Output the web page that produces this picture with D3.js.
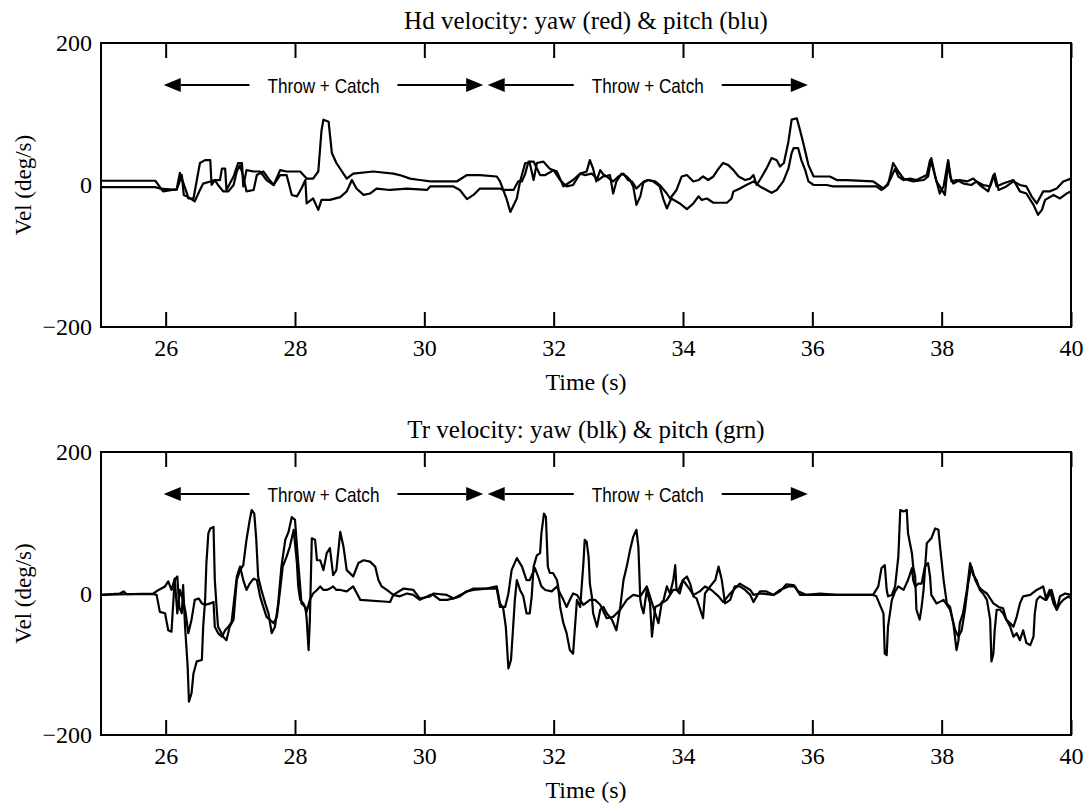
<!DOCTYPE html>
<html>
<head>
<meta charset="utf-8">
<script src="https://cdn.jsdelivr.net/npm/d3@7"></script>
<style>
  body { margin: 0; background: #fff; }
</style>
</head>
<body>
<div id="chart"></div>
<script>
// axis values
const timeTicks = [26, 28, 30, 32, 34, 36, 38, 40];
const velTicks = [-200, 0, 200];

// throw + catch spans (s)
const spans = [[25.97, 30.91], [30.98, 35.93]];
const spanLabel = "Throw + Catch";

// head velocity, [time, deg/s]
const hdYaw = [
  [25.0,6],[25.84,6],[25.96,-9],[26.17,-6],[26.22,17],[26.33,-12],[26.35,-19],[26.43,-19],[26.53,31],[26.61,35],
  [26.69,35],[26.71,0],[26.76,7],[26.84,7],[26.87,23],[26.92,23],[26.94,-7],[27.05,12],[27.12,31],[27.18,31],
  [27.20,-2],[27.25,21],[27.36,19],[27.46,19],[27.56,7],[27.67,0],[27.77,21],[27.87,19],[28.08,19],[28.18,9],
  [28.28,9],[28.36,19],[28.41,77],[28.44,92],[28.52,89],[28.57,45],[28.64,31],[28.80,9],[28.90,16],[29.21,19],
  [29.52,16],[29.62,14],[29.78,9],[29.93,7],[30.09,5],[30.50,5],[30.66,14],[30.86,14],[31.12,12],[31.17,5],
  [31.27,-19],[31.33,-38],[31.43,-19],[31.48,5],[31.56,31],[31.63,31],[31.69,7],[31.74,31],[31.84,33],[31.94,23],
  [32.05,19],[32.15,-2],[32.30,7],[32.41,16],[32.51,19],[32.56,35],[32.61,23],[32.66,5],[32.72,21],[32.79,12],
  [32.87,14],[32.92,-12],[32.97,5],[33.05,16],[33.13,12],[33.18,7],[33.23,-2],[33.28,-28],[33.34,-16],[33.39,5],
  [33.46,7],[33.54,5],[33.64,-2],[33.70,-21],[33.75,-33],[33.82,-19],[33.95,-26],[34.06,-34],[34.16,-26],[34.24,-16],
  [34.29,-21],[34.37,-19],[34.47,-25],[34.68,-25],[34.75,-19],[34.78,-9],[34.88,-5],[34.98,0],[35.09,5],[35.19,-2],
  [35.29,-7],[35.37,-11],[35.45,-7],[35.55,5],[35.63,23],[35.68,45],[35.71,52],[35.78,52],[35.83,35],[35.89,21],
  [35.94,5],[36.02,0],[36.22,0],[36.32,-2],[36.99,-2],[37.07,-7],[37.15,0],[37.20,7],[37.28,23],[37.33,12],
  [37.41,7],[37.51,9],[37.61,7],[37.77,14],[37.82,35],[37.87,23],[37.92,5],[37.97,-2],[38.05,-14],[38.10,33],
  [38.13,12],[38.18,2],[38.28,7],[38.39,5],[38.49,9],[38.59,0],[38.72,-9],[38.80,14],[38.85,-2],[38.95,2],
  [39.11,7],[39.21,-9],[39.31,-12],[39.42,-28],[39.49,-42],[39.55,-35],[39.60,-21],[39.73,-14],[39.83,-19],[39.93,-12],
  [40.0,-9]
];
const hdPitch = [
  [25.0,-3],[25.84,-3],[25.91,-5],[26.17,-7],[26.25,14],[26.28,-14],[26.35,-17],[26.45,-23],[26.53,-7],[26.58,2],
  [26.69,5],[26.76,7],[26.81,0],[26.89,-9],[26.97,-9],[27.05,0],[27.10,19],[27.15,28],[27.20,12],[27.25,-9],
  [27.36,-7],[27.41,14],[27.51,19],[27.59,9],[27.67,0],[27.77,14],[27.87,14],[27.95,-14],[28.03,-16],[28.10,-5],
  [28.16,7],[28.18,-26],[28.28,-19],[28.36,-35],[28.41,-21],[28.54,-21],[28.70,-17],[28.80,-9],[28.88,7],[28.95,-5],
  [29.06,-14],[29.16,-12],[29.26,-5],[29.47,-7],[29.73,-5],[30.04,-7],[30.09,-2],[30.45,-2],[30.55,-7],[30.66,-20],
  [30.76,-14],[30.86,-5],[31.17,-5],[31.22,-7],[31.38,-7],[31.45,5],[31.51,5],[31.56,16],[31.61,33],[31.69,33],
  [31.79,14],[31.87,14],[32.0,21],[32.10,7],[32.20,-2],[32.30,0],[32.41,16],[32.48,14],[32.59,16],[32.69,7],
  [32.79,14],[32.92,5],[33.0,12],[33.08,16],[33.15,7],[33.21,5],[33.28,-5],[33.36,2],[33.46,7],[33.57,5],
  [33.64,0],[33.75,-12],[33.80,-19],[33.90,-7],[33.98,12],[34.06,14],[34.16,5],[34.24,7],[34.31,12],[34.39,7],
  [34.47,12],[34.55,23],[34.62,31],[34.70,28],[34.78,21],[34.86,12],[34.96,7],[35.04,9],[35.09,14],[35.14,0],
  [35.22,12],[35.29,23],[35.37,38],[35.45,35],[35.50,26],[35.56,31],[35.63,61],[35.68,92],[35.76,94],[35.81,77],
  [35.86,59],[35.94,28],[36.02,12],[36.27,12],[36.38,7],[36.53,7],[36.94,5],[37.02,0],[37.10,-5],[37.17,0],
  [37.25,31],[37.33,19],[37.41,9],[37.56,5],[37.72,7],[37.79,12],[37.84,38],[37.90,12],[37.97,-12],[38.03,-2],
  [38.10,35],[38.15,5],[38.23,7],[38.34,2],[38.46,0],[38.54,5],[38.64,0],[38.75,-2],[38.82,16],[38.88,-7],
  [39.0,-2],[39.11,5],[39.21,0],[39.31,-2],[39.39,-16],[39.47,-26],[39.57,-9],[39.67,-9],[39.78,-5],[39.88,5],
  [40.0,9]
];

// trunk velocity, [time, deg/s]
const trYaw = [
  [25.0,-2],[25.29,0],[25.35,3],[25.40,-1],[25.81,-1],[25.86,-2],[25.91,-26],[25.99,-28],[26.04,-52],[26.09,-54],
  [26.12,-9],[26.14,19],[26.18,24],[26.21,-19],[26.25,-28],[26.27,12],[26.30,-47],[26.34,-103],[26.36,-153],[26.40,-141],
  [26.43,-113],[26.48,-96],[26.56,-94],[26.58,-47],[26.61,-9],[26.63,43],[26.66,85],[26.69,92],[26.74,94],[26.76,19],
  [26.79,-23],[26.81,-47],[26.84,-52],[26.89,-61],[26.94,-66],[26.99,-47],[27.05,-37],[27.07,-14],[27.10,19],[27.15,33],
  [27.20,40],[27.25,76],[27.30,104],[27.33,118],[27.37,113],[27.40,78],[27.43,24],[27.48,5],[27.54,-14],[27.59,-28],
  [27.64,-56],[27.69,-47],[27.74,-14],[27.79,38],[27.85,76],[27.90,87],[27.95,108],[28.0,104],[28.05,43],[28.08,10],
  [28.10,-14],[28.16,-19],[28.18,-35],[28.21,-80],[28.23,-37],[28.26,78],[28.31,76],[28.34,47],[28.39,47],[28.44,33],
  [28.49,57],[28.54,64],[28.59,26],[28.64,33],[28.70,87],[28.75,66],[28.80,33],[28.90,24],[28.98,43],[29.06,47],
  [29.16,45],[29.24,38],[29.29,19],[29.34,10],[29.42,5],[29.52,-2],[29.62,-4],[29.73,0],[29.83,-2],[29.93,-9],
  [30.09,-2],[30.14,-2],[30.24,-9],[30.35,-9],[30.45,-7],[30.55,-4],[30.65,3],[30.76,5],[30.96,7],[31.12,10],
  [31.17,-14],[31.22,-21],[31.26,-47],[31.30,-106],[31.34,-94],[31.37,-52],[31.40,-9],[31.43,19],[31.48,5],[31.53,-4],
  [31.58,-28],[31.63,-28],[31.66,-4],[31.69,38],[31.74,54],[31.79,57],[31.81,85],[31.85,113],[31.88,108],[31.91,38],
  [31.94,29],[31.99,29],[32.05,19],[32.07,10],[32.10,-19],[32.15,-42],[32.20,-56],[32.25,-80],[32.30,-85],[32.33,-47],
  [32.36,-9],[32.41,-19],[32.46,43],[32.48,76],[32.51,73],[32.54,52],[32.56,14],[32.59,-4],[32.61,-28],[32.67,-47],
  [32.72,-23],[32.77,-19],[32.82,-28],[32.90,-37],[32.97,-52],[33.03,-19],[33.08,19],[33.13,38],[33.18,61],[33.23,80],
  [33.28,90],[33.31,66],[33.34,-9],[33.36,-19],[33.39,-28],[33.44,5],[33.49,-14],[33.52,-61],[33.57,-19],[33.64,-16],
  [33.70,-9],[33.75,10],[33.80,0],[33.85,19],[33.88,40],[33.90,5],[33.95,0],[34.0,19],[34.06,24],[34.11,14],
  [34.16,-4],[34.21,-7],[34.31,-35],[34.34,0],[34.42,10],[34.50,19],[34.55,38],[34.60,19],[34.65,-14],[34.73,-9],
  [34.80,10],[34.88,10],[34.96,5],[35.04,-2],[35.09,-12],[35.14,-4],[35.19,3],[35.29,3],[35.40,-2],[35.50,3],
  [35.60,13],[35.71,12],[35.78,3],[35.91,-2],[36.12,0],[36.38,-2],[36.94,-2],[37.02,10],[37.07,36],[37.12,40],
  [37.15,5],[37.17,-4],[37.23,-2],[37.28,10],[37.33,52],[37.36,118],[37.41,116],[37.46,118],[37.48,85],[37.54,57],
  [37.56,38],[37.59,24],[37.61,-23],[37.66,-37],[37.69,-19],[37.72,5],[37.77,71],[37.84,78],[37.90,92],[37.95,90],
  [37.97,71],[38.03,19],[38.08,-14],[38.13,-19],[38.18,-42],[38.23,-80],[38.26,-66],[38.28,-42],[38.33,-28],[38.39,5],
  [38.44,43],[38.49,26],[38.54,19],[38.59,5],[38.64,0],[38.70,-9],[38.75,-37],[38.77,-96],[38.80,-85],[38.82,-52],
  [38.85,-23],[38.90,-23],[38.95,-28],[39.0,-37],[39.06,-47],[39.11,-61],[39.16,-56],[39.21,-66],[39.26,-52],[39.31,-70],
  [39.37,-73],[39.42,-61],[39.44,-28],[39.47,-9],[39.52,-4],[39.60,-9],[39.67,5],[39.73,-14],[39.78,-23],[39.83,-14],
  [39.88,-9],[39.96,-4],[40.0,-7]
];
const trPitch = [
  [25.0,-2],[25.81,0],[25.89,5],[25.99,10],[26.04,17],[26.09,5],[26.14,21],[26.18,-28],[26.22,5],[26.27,-9],
  [26.31,-28],[26.35,-56],[26.40,-37],[26.45,-9],[26.51,-7],[26.56,-14],[26.61,-16],[26.69,-14],[26.74,-12],[26.76,-47],
  [26.81,-56],[26.87,-61],[26.92,-52],[26.97,-47],[27.02,-40],[27.07,0],[27.10,24],[27.15,38],[27.20,19],[27.25,5],
  [27.30,14],[27.36,21],[27.41,19],[27.46,-4],[27.51,-19],[27.56,-33],[27.61,-37],[27.67,-42],[27.72,-33],[27.77,5],
  [27.81,38],[27.87,52],[27.92,66],[27.98,90],[28.03,43],[28.05,10],[28.08,-9],[28.13,-14],[28.18,-26],[28.23,-9],
  [28.28,0],[28.34,5],[28.39,10],[28.44,5],[28.49,5],[28.54,7],[28.59,10],[28.64,5],[28.70,5],[28.80,3],
  [28.90,10],[29.01,-9],[29.47,-12],[29.52,-2],[29.68,7],[29.83,5],[29.93,-7],[30.09,-4],[30.14,0],[30.35,-2],
  [30.45,-7],[30.60,0],[30.76,7],[31.12,7],[31.17,-19],[31.25,-19],[31.30,0],[31.35,33],[31.43,50],[31.51,38],
  [31.58,19],[31.63,19],[31.71,36],[31.76,24],[31.81,10],[31.87,5],[31.97,3],[32.05,10],[32.10,0],[32.15,-9],
  [32.20,-19],[32.25,-9],[32.30,0],[32.36,-2],[32.46,-16],[32.56,-9],[32.64,-9],[32.72,-16],[32.82,-35],[32.92,-33],
  [33.03,-23],[33.13,-9],[33.23,-2],[33.34,-4],[33.44,10],[33.54,-19],[33.62,-42],[33.67,-14],[33.75,-9],[33.85,5],
  [33.93,5],[34.0,19],[34.11,5],[34.16,-2],[34.26,3],[34.34,10],[34.44,5],[34.55,-4],[34.62,-12],[34.73,0],
  [34.88,14],[35.04,5],[35.09,-2],[35.19,0],[35.40,-2],[35.50,5],[35.63,10],[35.73,10],[35.81,-2],[36.12,-2],
  [36.94,-2],[36.99,-4],[37.10,-28],[37.12,-85],[37.15,-87],[37.17,-47],[37.23,-9],[37.28,3],[37.33,10],[37.41,5],
  [37.48,19],[37.54,36],[37.56,19],[37.59,10],[37.64,14],[37.69,14],[37.74,38],[37.79,43],[37.82,24],[37.84,-2],
  [37.92,-14],[38.03,-9],[38.13,-23],[38.21,-52],[38.26,-61],[38.31,-52],[38.36,-23],[38.41,14],[38.46,38],[38.52,19],
  [38.57,10],[38.62,5],[38.70,0],[38.80,-14],[38.88,-19],[38.95,-21],[39.0,-37],[39.06,-42],[39.11,-47],[39.16,-33],
  [39.21,-14],[39.26,-4],[39.37,-2],[39.47,5],[39.57,10],[39.62,-9],[39.70,5],[39.78,-23],[39.83,-4],[39.91,0],
  [40.0,-2]
];

// layout
const W = 1088, H = 804;
const left = 101, right = 1071;
const serif = '"Liberation Serif", "Times New Roman", serif';
const sans = '"Liberation Sans Narrow", "Arial Narrow", "Liberation Sans", Arial, sans-serif';

const panels = [
  { title: "Hd velocity: yaw (red) & pitch (blu)", top: 43, bottom: 327, series: [hdYaw, hdPitch] },
  { title: "Tr velocity: yaw (blk) & pitch (grn)", top: 452, bottom: 735, series: [trYaw, trPitch] }
];

const svg = d3.select("#chart")
  .append("svg")
  .attr("width", W)
  .attr("height", H);

const x = d3.scaleLinear().domain([25, 40]).range([left, right]);

// serif tick labels, black tick marks
function styleAxis(a) {
  a.attr("font-family", serif).attr("font-size", 24);
  a.select(".domain").remove();
  a.selectAll(".tick line").attr("stroke", "#000").attr("stroke-width", 2);
  a.selectAll(".tick text").attr("fill", "#000");
}

panels.forEach(function (p) {
  const y = d3.scaleLinear().domain([-200, 200]).range([p.bottom, p.top]);
  const g = svg.append("g");

  // data lines
  const line = d3.line()
    .x(function (d) { return x(d[0]); })
    .y(function (d) { return y(d[1]); });

  p.series.forEach(function (s) {
    g.append("path")
      .datum(s)
      .attr("fill", "none")
      .attr("stroke", "#000")
      .attr("stroke-width", 2.2)
      .attr("stroke-linejoin", "round")
      .attr("d", line);
  });

  // axes
  g.append("g")
    .attr("transform", `translate(0,${p.bottom})`)
    .call(d3.axisBottom(x).tickValues(timeTicks).tickSizeInner(-15).tickSizeOuter(0).tickPadding(12))
    .call(styleAxis);

  g.append("g")
    .attr("transform", `translate(0,${p.top})`)
    .call(d3.axisTop(x).tickValues(timeTicks).tickSizeInner(-15).tickSizeOuter(0).tickFormat(""))
    .call(styleAxis);

  g.append("g")
    .attr("transform", `translate(${left},0)`)
    .call(d3.axisLeft(y).tickValues(velTicks).tickSize(0).tickPadding(9)
      .tickFormat(function (d) { return d < 0 ? "\u2212" + Math.abs(d) : d; }))
    .call(styleAxis);

  // frame
  g.append("rect")
    .attr("x", left)
    .attr("y", p.top)
    .attr("width", right - left)
    .attr("height", p.bottom - p.top)
    .attr("fill", "none")
    .attr("stroke", "#000")
    .attr("stroke-width", 2);

  // title and labels
  g.append("text")
    .attr("x", (left + right) / 2)
    .attr("y", p.top - 14)
    .attr("text-anchor", "middle")
    .style("font-family", serif)
    .style("font-size", "25px")
    .text(p.title);

  g.append("text")
    .attr("x", (left + right) / 2)
    .attr("y", p.bottom + 63)
    .attr("text-anchor", "middle")
    .style("font-family", serif)
    .style("font-size", "24px")
    .text("Time (s)");

  g.append("text")
    .attr("transform", `translate(23,${(p.top + p.bottom) / 2}) rotate(-90)`)
    .attr("dy", "0.35em")
    .attr("text-anchor", "middle")
    .style("font-family", serif)
    .style("font-size", "23px")
    .text("Vel (deg/s)");

  // throw + catch arrows
  const ay = p.top + 42;
  const gap = 18, head = 17, half = 7, labelW = 112;
  spans.forEach(function (s) {
    const x0 = x(s[0]), x1 = x(s[1]);
    const xm = (x0 + x1) / 2;
    g.append("line")
      .attr("x1", x0 + head).attr("x2", xm - labelW / 2 - gap)
      .attr("y1", ay).attr("y2", ay)
      .attr("stroke", "#000").attr("stroke-width", 2);
    g.append("line")
      .attr("x1", xm + labelW / 2 + gap).attr("x2", x1 - head)
      .attr("y1", ay).attr("y2", ay)
      .attr("stroke", "#000").attr("stroke-width", 2);
    g.append("path")
      .attr("d", `M${x0},${ay}L${x0 + head},${ay - half}L${x0 + head},${ay + half}Z`)
      .attr("fill", "#000");
    g.append("path")
      .attr("d", `M${x1},${ay}L${x1 - head},${ay - half}L${x1 - head},${ay + half}Z`)
      .attr("fill", "#000");
    g.append("text")
      .attr("x", xm)
      .attr("y", ay)
      .attr("dy", "0.36em")
      .attr("text-anchor", "middle")
      .attr("textLength", labelW)
      .attr("lengthAdjust", "spacingAndGlyphs")
      .style("font-family", sans)
      .style("font-size", "21px")
      .text(spanLabel);
  });
});
</script>
</body>
</html>
